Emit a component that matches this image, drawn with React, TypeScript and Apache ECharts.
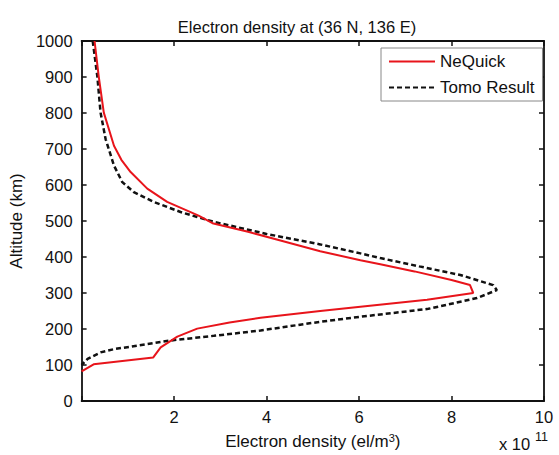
import React, { useEffect, useRef } from "react";
import * as echarts from "echarts";

const nequickDensity = [0.28, 0.37, 0.48, 0.70, 0.86, 1.06, 1.42, 1.85, 2.53, 2.85, 3.6, 4.3, 5.16, 6.03, 6.46, 7.2, 8.0, 8.4, 8.47, 7.47, 6.03, 5.16, 3.87, 3.2, 2.5, 2.07, 1.71, 1.55, 0.26, 0];
const nequickAltitude = [1000, 902, 801, 709, 670, 636, 590, 553, 515, 493, 470, 446, 416, 391, 380, 360, 336, 322, 300, 281, 262, 250, 231, 218, 201, 179, 149, 121, 102, 82];

const tomoDensity = [0.24, 0.34, 0.41, 0.52, 0.70, 0.88, 1.13, 1.56, 2.14, 2.5, 2.85, 4.0, 5.16, 6.03, 6.46, 7.3, 8.19, 8.9, 8.98, 8.55, 7.5, 6.03, 5.16, 3.87, 2.86, 1.92, 1.42, 0.70, 0.41, 0.13, 0];
const tomoAltitude = [1000, 902, 801, 727, 654, 608, 580, 553, 525, 511, 498, 464, 435, 410, 397, 374, 350, 322, 308, 286, 256, 234, 220, 196, 181, 168, 158, 144, 135, 117, 100];

const FONT = "'Liberation Sans', Arial, sans-serif";

export default function App() {
  const ref = useRef<HTMLDivElement>(null);
  useEffect(() => {
    if (!ref.current) return;
    const chart = echarts.init(ref.current, undefined, { renderer: "svg" });
    const zip = (xs: number[], ys: number[]) => xs.map((x, i) => [x, ys[i]]);
    const axisLine = { show: true, onZero: false, lineStyle: { color: "#111", width: 1.8 } };
    const axisTick = { show: true, inside: true, length: 5, lineStyle: { color: "#111", width: 1.5 } };
    chart.setOption({
      animation: false,
      backgroundColor: "#fff",
      textStyle: { fontFamily: FONT },
      title: {
        text: "Electron density at (36 N, 136 E)",
        left: 292,
        textAlign: "center",
        top: 13,
        textStyle: { fontSize: 16.5, fontWeight: "normal", color: "#111", fontFamily: FONT },
      },
      grid: { left: 81, right: 15, top: 41, bottom: 51 },
      legend: {
        orient: "vertical",
        left: 381,
        top: 48,
        padding: [5, 8, 5, 7],
        itemWidth: 46,
        itemHeight: 14,
        itemGap: 9,
        borderColor: "#888",
        borderWidth: 1,
        backgroundColor: "#fff",
        itemStyle: { opacity: 0 },
        textStyle: { fontSize: 17, color: "#111", fontFamily: FONT },
        data: ["NeQuick", "Tomo Result"],
      },
      xAxis: [
        {
          type: "value",
          min: 0,
          max: 10,
          interval: 2,
          position: "bottom",
          axisLine,
          axisTick,
          splitLine: { show: false },
          axisLabel: {
            fontSize: 16.5,
            color: "#111",
            margin: 7,
            fontFamily: FONT,
            formatter: (v: number) => (v === 0 ? "" : String(v)),
          },
          name: "{a|Electron density (el/m}{s|3}{a|)}",
          nameLocation: "middle",
          nameGap: 31,
          nameTextStyle: {
            rich: {
              a: { fontSize: 17, color: "#111", fontFamily: FONT },
              s: { fontSize: 11, color: "#111", fontFamily: FONT, verticalAlign: "top", padding: [0, 0, 8, 0] },
            },
          },
        },
        {
          type: "value",
          min: 0,
          max: 10,
          interval: 2,
          position: "top",
          axisLine,
          axisTick,
          splitLine: { show: false },
          axisLabel: { show: false },
        },
      ],
      yAxis: [
        {
          type: "value",
          min: 0,
          max: 1000,
          interval: 100,
          position: "left",
          axisLine,
          axisTick,
          splitLine: { show: false },
          axisLabel: {
            fontSize: 16.5,
            color: "#111",
            margin: 9,
            fontFamily: FONT,
            formatter: (v: number) => String(v),
          },
          name: "Altitude (km)",
          nameLocation: "middle",
          nameGap: 52,
          nameTextStyle: { fontSize: 17, color: "#111", fontFamily: FONT },
        },
        {
          type: "value",
          min: 0,
          max: 1000,
          interval: 100,
          position: "right",
          axisLine,
          axisTick,
          splitLine: { show: false },
          axisLabel: { show: false },
        },
      ],
      graphic: [
        {
          type: "text",
          left: 499,
          top: 435,
          style: {
            text: "x 10",
            fontSize: 16.5,
            fill: "#111",
            fontFamily: FONT,
          },
        },
        {
          type: "text",
          left: 535,
          top: 430,
          style: {
            text: "11",
            fontSize: 12.5,
            fill: "#111",
            fontFamily: FONT,
          },
        },
      ],
      series: [
        {
          name: "NeQuick",
          type: "line",
          data: zip(nequickDensity, nequickAltitude),
          showSymbol: false,
          symbol: "none",
          smooth: false,
          lineStyle: { color: "#e8141b", width: 2 },
          itemStyle: { color: "#e8141b" },
          z: 3,
        },
        {
          name: "Tomo Result",
          type: "line",
          data: zip(tomoDensity, tomoAltitude),
          showSymbol: false,
          symbol: "none",
          smooth: false,
          lineStyle: { color: "#111", width: 2.5, type: [5, 3] },
          itemStyle: { color: "#111" },
          z: 2,
        },
      ],
    });
    return () => chart.dispose();
  }, []);
  return (
    <div
      ref={ref}
      style={{ position: "fixed", left: 0, top: 0, width: 559, height: 455, background: "#fff" }}
    />
  );
}
